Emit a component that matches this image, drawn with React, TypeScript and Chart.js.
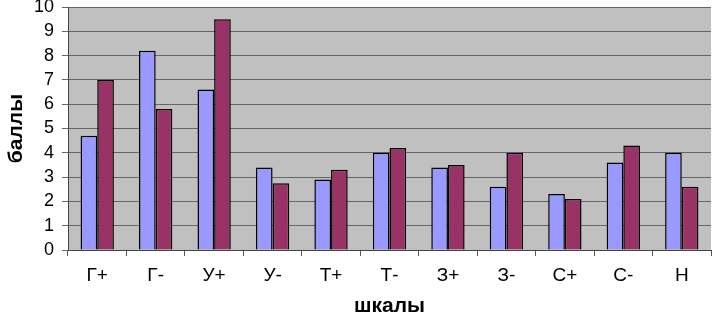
import React, { useEffect, useRef } from "react";
import { Chart, registerables } from "chart.js";

Chart.register(...registerables);

const categories = ["Г+", "Г-", "У+", "У-", "Т+", "Т-", "З+", "З-", "С+", "С-", "Н"];
const seriesBlue = [4.7, 8.2, 6.6, 3.4, 2.9, 4.0, 3.4, 2.6, 2.3, 3.6, 4.0];
const seriesRed = [7.0, 5.8, 9.5, 2.75, 3.3, 4.2, 3.5, 4.0, 2.1, 4.3, 2.6];
const yTicks = [0, 1, 2, 3, 4, 5, 6, 7, 8, 9, 10];

const FONT = "'Liberation Sans', Arial, sans-serif";

const bgPlugin = {
  id: "plotBg",
  beforeDraw(chart: any) {
    const { ctx, chartArea } = chart;
    if (!chartArea) return;
    ctx.save();
    ctx.fillStyle = "#C0C0C0";
    ctx.fillRect(chartArea.left, chartArea.top, chartArea.right - chartArea.left, chartArea.bottom - chartArea.top);
    ctx.restore();
  },
};

export default function App() {
  const ref = useRef<HTMLCanvasElement | null>(null);
  useEffect(() => {
    document.body.style.margin = "0";
    if (!ref.current) return;
    const chart = new Chart(ref.current, {
      type: "bar",
      data: {
        labels: categories,
        datasets: [
          {
            data: seriesBlue,
            backgroundColor: "#9999FF",
            borderColor: "#000000",
            borderWidth: 1.5,
            categoryPercentage: 0.57,
            barPercentage: 1,
          },
          {
            data: seriesRed,
            backgroundColor: "#993366",
            borderColor: "#000000",
            borderWidth: 1.5,
            categoryPercentage: 0.57,
            barPercentage: 1,
          },
        ],
      },
      plugins: [bgPlugin],
      options: {
        animation: false,
        responsive: false,
        maintainAspectRatio: false,
        layout: { padding: { top: 7, right: 1, left: 4, bottom: 0 } },
        plugins: {
          legend: { display: false },
          tooltip: { enabled: false },
        },
        scales: {
          x: {
            grid: {
              display: true,
              drawOnChartArea: false,
              drawTicks: true,
              tickLength: 6,
              color: "#555555",
              offset: true,
            },
            border: { display: true, color: "#444444", width: 1 },
            ticks: {
              color: "#000",
              font: { family: FONT, size: 19 },
              padding: 8,
              maxRotation: 0,
              autoSkip: false,
            },
            title: {
              display: true,
              text: "шкалы",
              color: "#000",
              font: { family: FONT, size: 21, weight: "bold", lineHeight: 0.75 },
              padding: { top: 0, bottom: 0 },
            },
            afterFit(axis: any) {
              axis.height = 64;
              axis.paddingLeft = 0;
              axis.paddingRight = 0;
            },
          },
          y: {
            min: 0,
            max: 10,
            afterBuildTicks(axis: any) {
              axis.ticks = yTicks.map((v) => ({ value: v }));
            },
            grid: {
              display: true,
              drawOnChartArea: true,
              drawTicks: true,
              tickLength: 6,
              color: "#666666",
            },
            border: { display: true, color: "#444444", width: 1 },
            ticks: {
              color: "#000",
              font: { family: FONT, size: 18 },
              padding: 8,
              autoSkip: false,
            },
            title: {
              display: true,
              text: "баллы",
              color: "#000",
              font: { family: FONT, size: 21, weight: "bold" },
              padding: { top: 0, bottom: 0 },
            },
            afterFit(axis: any) {
              axis.width = 64;
              axis.paddingTop = 0;
              axis.paddingBottom = 0;
            },
          },
        },
      },
    });
    return () => chart.destroy();
  }, []);
  return (
    <div style={{ position: "absolute", left: 0, top: 0, width: 712, height: 314, background: "#fff" }}>
      <canvas ref={ref} width={712} height={314} style={{ width: 712, height: 314 }} />
    </div>
  );
}
